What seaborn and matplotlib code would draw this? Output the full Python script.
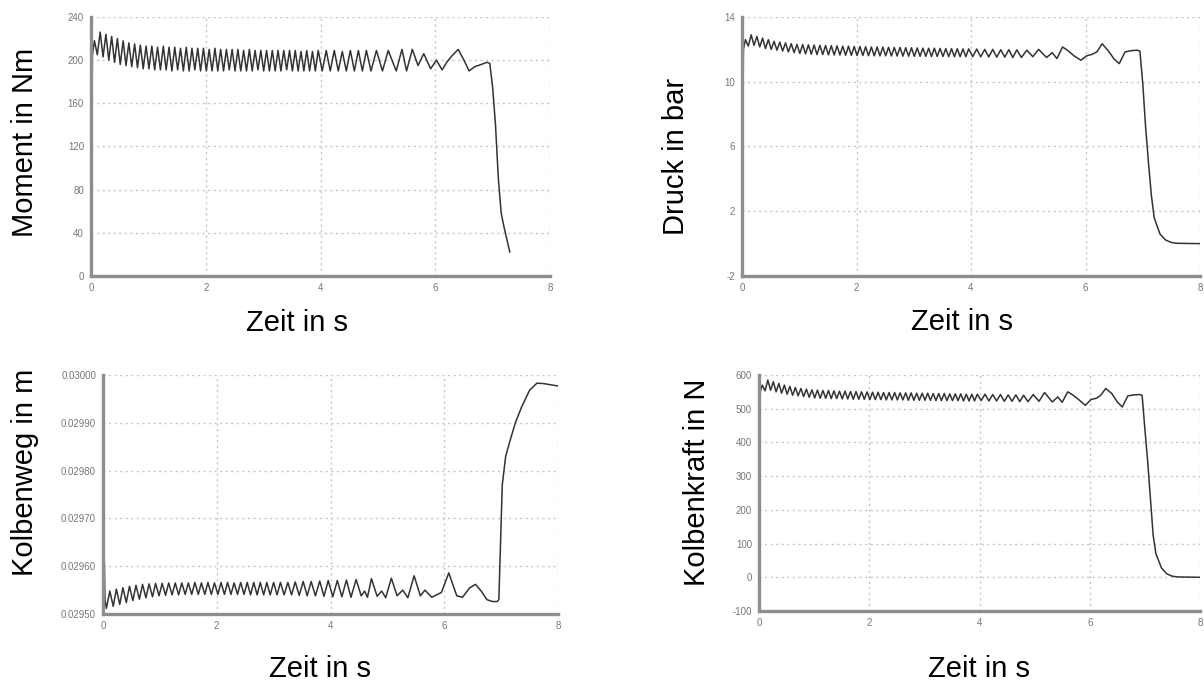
import matplotlib
matplotlib.use("Agg")
import matplotlib.pyplot as plt
import seaborn as sns
import pandas as pd
from matplotlib.ticker import FixedLocator, MultipleLocator, FormatStrFormatter

# ---------------- data ----------------
# shared simulation time for Moment, Druck, Kolbenkraft (s)
t_sim = [
    0.00, 0.025,
    0.06, 0.11, 0.16, 0.21, 0.26, 0.31, 0.36, 0.41, 0.46, 0.51,
    0.56, 0.61, 0.66, 0.71, 0.76, 0.81, 0.86, 0.91, 0.96, 1.01,
    1.06, 1.11, 1.16, 1.21, 1.26, 1.31, 1.36, 1.41, 1.46, 1.51,
    1.56, 1.61, 1.66, 1.71, 1.76, 1.81, 1.86, 1.91, 1.96, 2.01,
    2.06, 2.11, 2.16, 2.21, 2.26, 2.31, 2.36, 2.41, 2.46, 2.51,
    2.56, 2.61, 2.66, 2.71, 2.76, 2.81, 2.86, 2.91, 2.96, 3.01,
    3.06, 3.11, 3.16, 3.21, 3.26, 3.31, 3.36, 3.41, 3.46, 3.51,
    3.56, 3.61, 3.66, 3.71, 3.76, 3.81, 3.86, 3.91, 3.96,
    4.03, 4.10, 4.17, 4.24, 4.31, 4.38, 4.45, 4.52, 4.59, 4.66, 4.73, 4.80, 4.88,
    4.975, 5.08, 5.18, 5.32, 5.42, 5.50, 5.60,
    5.70, 5.80, 5.92, 6.02, 6.12, 6.20, 6.29, 6.40, 6.50, 6.59, 6.69, 6.80, 6.90, 6.95,
    7.00, 7.05, 7.10, 7.15, 7.20, 7.30,
    7.40, 7.50, 7.60, 8.00]

moment_nm = [
    62, 205,
    218, 205, 226, 203, 224, 200, 222, 198, 220, 196,
    218, 195, 216, 194, 215, 193, 214, 192, 213, 192,
    213, 191, 212, 191, 213, 191, 212, 190, 212, 191,
    211, 190, 212, 190, 211, 191, 211, 190, 211, 190,
    210, 190, 211, 190, 210, 190, 210, 191, 210, 190,
    210, 190, 209, 190, 210, 190, 209, 191, 209, 190,
    209, 190, 209, 190, 209, 190, 209, 191, 209, 190,
    209, 190, 208, 190, 209, 190, 208, 190, 209,
    190, 209, 190, 209, 190, 208, 190, 209, 190, 209, 190, 209, 190,
    209, 190, 209, 190, 210, 190, 210,
    195, 206, 192, 200, 191, 198, 204, 210, 200, 190, 194, 196, 198, 197,
    175, 140, 90, 58, 45, 22]

druck_bar = [
    2.7, 12.0,
    12.6, 12.2, 12.9, 12.25, 12.8, 12.15, 12.7, 12.05, 12.6, 12.0,
    12.5, 11.95, 12.45, 11.9, 12.4, 11.85, 12.35, 11.8, 12.3, 11.75,
    12.3, 11.72, 12.28, 11.7, 12.27, 11.68, 12.25, 11.68, 12.24, 11.66,
    12.23, 11.65, 12.22, 11.65, 12.2, 11.64, 12.2, 11.63, 12.18, 11.62,
    12.18, 11.62, 12.16, 11.61, 12.15, 11.6, 12.15, 11.6, 12.14, 11.6,
    12.13, 11.59, 12.12, 11.59, 12.12, 11.58, 12.1, 11.58, 12.1, 11.57,
    12.09, 11.57, 12.08, 11.57, 12.07, 11.56, 12.07, 11.56, 12.06, 11.56,
    12.05, 11.55, 12.05, 11.55, 12.04, 11.55, 12.03, 11.55, 12.03,
    11.55, 12.02, 11.54, 12.0, 11.53, 12.0, 11.52, 11.98, 11.52, 11.98, 11.5, 11.97, 11.5,
    11.95, 11.55, 12.0, 11.5, 11.8, 11.43, 12.15,
    11.9, 11.6, 11.33, 11.6, 11.7, 11.85, 12.35, 11.9, 11.4, 11.12, 11.84, 11.92, 11.95, 11.9,
    9.9, 7.2, 5.0, 3.0, 1.6, 0.6,
    0.22, 0.07, 0.02, 0.0]

kraft_n = [
    410, 552,
    570, 553, 585, 555, 580, 550, 575, 546, 570, 543,
    566, 540, 563, 538, 560, 536, 558, 534, 556, 532,
    555, 531, 554, 531, 554, 530, 553, 530, 552, 529,
    552, 529, 551, 528, 551, 528, 550, 528, 550, 527,
    549, 527, 549, 527, 548, 526, 548, 526, 548, 526,
    547, 526, 547, 525, 547, 525, 546, 525, 546, 525,
    546, 525, 545, 524, 545, 524, 545, 524, 544, 524,
    544, 524, 544, 523, 543, 523, 543, 523, 543,
    524, 543, 523, 542, 523, 542, 522, 541, 522, 541, 521, 540, 521,
    542, 522, 548, 520, 535, 519, 550,
    540, 527, 510, 527, 531, 540, 560, 545, 520, 505, 538, 541, 542, 540,
    440, 345, 235, 125, 70, 28,
    10, 3, 1, 0]

# Kolbenweg (own sampling)
t_weg = [
    0.00, 0.025, 0.035, 0.06,
    0.12, 0.18, 0.235, 0.295, 0.35, 0.41, 0.465, 0.525, 0.58, 0.64,
    0.695, 0.755, 0.81, 0.87, 0.925, 0.985, 1.04, 1.10, 1.155, 1.215,
    1.27, 1.33, 1.385, 1.445, 1.50, 1.56, 1.615, 1.675, 1.73, 1.79,
    1.845, 1.905, 1.96, 2.02, 2.075, 2.135, 2.19, 2.25, 2.305, 2.365,
    2.42, 2.48, 2.535, 2.595, 2.65, 2.71, 2.765, 2.825, 2.88, 2.94,
    3.0, 3.06,
    3.12, 3.185, 3.25, 3.315, 3.38, 3.45, 3.52, 3.59, 3.66, 3.735,
    3.81, 3.885, 3.96, 4.04, 4.12, 4.20, 4.28, 4.36,
    4.45, 4.54, 4.60, 4.65, 4.72, 4.82, 4.90, 4.97,
    5.07, 5.17, 5.27, 5.36, 5.47, 5.58, 5.66, 5.78,
    5.95, 6.08, 6.22, 6.32, 6.45, 6.55, 6.65, 6.75, 6.85, 6.93,
    6.96, 6.99, 7.02, 7.08, 7.16, 7.25, 7.36, 7.50, 7.63, 7.75, 8.0]

kolbenweg_m = [
    0.029695, 0.029600, 0.029530, 0.029512,
    0.029548, 0.029516, 0.029552, 0.029520, 0.029555, 0.029524, 0.029558, 0.029528, 0.029560, 0.029531,
    0.029562, 0.029534, 0.029563, 0.029536, 0.029564, 0.029538, 0.029564, 0.029539, 0.029565, 0.029540,
    0.029565, 0.029540, 0.029565, 0.029541, 0.029565, 0.029541, 0.029566, 0.029541, 0.029565, 0.029541,
    0.029566, 0.029541, 0.029565, 0.029541, 0.029566, 0.029541, 0.029566, 0.029541, 0.029565, 0.029541,
    0.029566, 0.029541, 0.029566, 0.029540, 0.029566, 0.029540, 0.029566, 0.029540, 0.029566, 0.029540,
    0.029566, 0.029540,
    0.029566, 0.029540, 0.029566, 0.029540, 0.029567, 0.029539, 0.029568, 0.029538, 0.029568, 0.029538,
    0.029569, 0.029537, 0.029570, 0.029536, 0.029570, 0.029536, 0.029571, 0.029535,
    0.029572, 0.029538, 0.029548, 0.029535, 0.029574, 0.029537, 0.029548, 0.029534,
    0.029575, 0.029538, 0.029550, 0.029534, 0.029580, 0.029538, 0.029550, 0.029535,
    0.029545, 0.029586, 0.029538, 0.029535, 0.029555, 0.029562, 0.029548, 0.029530, 0.029526, 0.029526,
    0.029530, 0.029650, 0.029770, 0.029830, 0.029864, 0.029900, 0.029933, 0.029968, 0.029983, 0.029982, 0.029977]

x_ticks = [0, 2, 4, 6, 8]
moment_ticks = [0, 40, 80, 120, 160, 200, 240]
druck_ticks = [-2, 2, 6, 10, 14]
weg_ticks = [0.02950, 0.02960, 0.02970, 0.02980, 0.02990, 0.03000]
kraft_ticks = [-100, 0, 100, 200, 300, 400, 500, 600]

x_label = "Zeit in s"
y_labels = ["Moment in Nm", "Druck in bar", "Kolbenweg in m", "Kolbenkraft in N"]

# ---------------- tables ----------------
df_moment = pd.DataFrame({"t": t_sim[:len(moment_nm)], "v": moment_nm})
df_druck = pd.DataFrame({"t": t_sim, "v": druck_bar})
df_kraft = pd.DataFrame({"t": t_sim, "v": kraft_n})
df_weg = pd.DataFrame({"t": t_weg, "v": kolbenweg_m})

# ---------------- style ----------------
sns.set_theme(style="white")
plt.rcParams['font.family'] = ['Liberation Sans', 'DejaVu Sans']
plt.rcParams['axes.unicode_minus'] = False
plt.rcParams['text.color'] = 'black'

W, H = 1204, 684
fig = plt.figure(figsize=(W / 100, H / 100), dpi=100)
fig.patch.set_facecolor("white")


def px_axes(l, t, r, b):
    return fig.add_axes([l / W, 1 - b / H, (r - l) / W, (b - t) / H])


ax1 = px_axes(91, 17, 550, 276)
ax2 = px_axes(742, 17, 1200, 276)
ax3 = px_axes(103, 375, 558, 614)
ax4 = px_axes(759, 375, 1200, 611)

LINE = "#333333"


def style(ax, df, yticks, fmt, yminor=None):
    sns.lineplot(data=df, x="t", y="v", ax=ax, color=LINE, linewidth=1.1,
                 estimator=None, sort=False, legend=False)
    ax.set_xlim(x_ticks[0], x_ticks[-1])
    ax.set_ylim(yticks[0], yticks[-1])
    ax.xaxis.set_major_locator(FixedLocator(x_ticks))
    ax.xaxis.set_minor_locator(MultipleLocator(0.5))
    ax.yaxis.set_major_locator(FixedLocator(yticks))
    if yminor is not None:
        ax.yaxis.set_minor_locator(MultipleLocator(yminor))
    ax.yaxis.set_major_formatter(FormatStrFormatter(fmt))
    ax.xaxis.set_major_formatter(FormatStrFormatter("%d"))
    ax.grid(True, which="major", color="#c6c6c6", linestyle=(0, (1.5, 2.5)), linewidth=1.0)
    for s in ["top", "right"]:
        ax.spines[s].set_visible(False)
    for s in ["left", "bottom"]:
        ax.spines[s].set_color("#8e8e8e")
        ax.spines[s].set_linewidth(2.4)
    ax.tick_params(which="major", direction="out", length=4, width=1,
                   color="#8e8e8e", labelsize=7, labelcolor="#777777", pad=1)
    ax.tick_params(which="minor", direction="in", length=2.5, width=1, color="#555555")
    ax.set_xlabel("")
    ax.set_ylabel("")
    ax.set_facecolor("white")


style(ax1, df_moment, moment_ticks, "%d")
style(ax2, df_druck, druck_ticks, "%d")
style(ax3, df_weg, weg_ticks, "%.5f", yminor=0.00002)
style(ax4, df_kraft, kraft_ticks, "%d", yminor=20)

FS = 21
TC = "black"
fig.text(25 / W, 1 - 142 / H, y_labels[0], rotation=90, ha="center", va="center", fontsize=FS, color=TC)
fig.text(676 / W, 1 - 156 / H, y_labels[1], rotation=90, ha="center", va="center", fontsize=FS, color=TC)
fig.text(25 / W, 1 - 472 / H, y_labels[2], rotation=90, ha="center", va="center", fontsize=FS, color=TC)
fig.text(697 / W, 1 - 482 / H, y_labels[3], rotation=90, ha="center", va="center", fontsize=FS, color=TC)

fig.text(297 / W, 1 - 323 / H, x_label, ha="center", va="center", fontsize=FS, color=TC)
fig.text(962 / W, 1 - 322 / H, x_label, ha="center", va="center", fontsize=FS, color=TC)
fig.text(320 / W, 1 - 669 / H, x_label, ha="center", va="center", fontsize=FS, color=TC)
fig.text(979 / W, 1 - 669 / H, x_label, ha="center", va="center", fontsize=FS, color=TC)

fig.savefig("out.png", dpi=100, facecolor="white")
